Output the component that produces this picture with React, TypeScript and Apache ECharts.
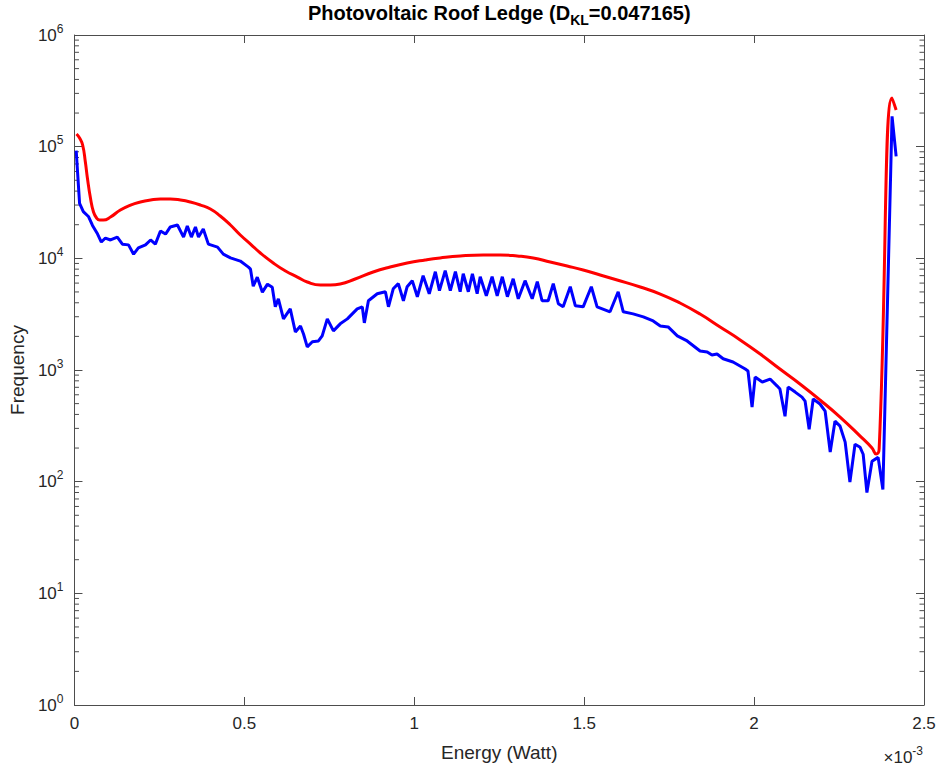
import React, { useEffect, useRef } from "react";
import * as echarts from "echarts";

// x values in units of 1e-3 Watt
const blueX = [0.005,0.015,0.026,0.041,0.053,0.068,0.079,0.091,0.106,0.126,
  0.141,0.159,0.174,0.188,0.209,0.224,0.238,0.253,0.268,0.282,
  0.303,0.321,0.332,0.344,0.356,0.365,0.379,0.394,0.421,0.438,
  0.459,0.488,0.512,0.518,0.526,0.538,0.553,0.568,0.582,0.591,
  0.600,0.615,0.635,0.650,0.665,0.674,0.685,0.700,0.718,0.729,
  0.744,0.762,0.782,0.803,0.832,0.847,0.853,0.865,0.891,0.915,
  0.924,0.938,0.953,0.968,0.979,0.994,1.009,1.026,1.044,1.062,
  1.074,1.091,1.106,1.121,1.135,1.144,1.159,1.171,1.185,1.194,
  1.212,1.229,1.244,1.259,1.274,1.291,1.306,1.326,1.347,1.362,
  1.376,1.394,1.409,1.424,1.438,1.459,1.474,1.497,1.521,1.538,
  1.576,1.600,1.615,1.644,1.674,1.703,1.724,1.747,1.774,1.803,
  1.841,1.862,1.876,1.891,1.909,1.938,1.974,1.982,1.994,2.003,
  2.024,2.047,2.068,2.076,2.091,2.100,2.121,2.141,2.150,2.162,
  2.174,2.194,2.209,2.224,2.238,2.253,2.268,2.282,2.297,2.312,
  2.321,2.332,2.347,2.365,2.379,2.406,2.418];

const blueY = [92000,31000,26200,23700,19700,16500,14000,15200,14600,15500,
  13400,13200,10900,12400,13200,14600,13400,17600,16500,19100,
  19900,15500,19500,15500,19100,15500,18300,13400,12600,10900,
  10100,9450,8340,8000,5630,6780,4980,5870,5510,3680,
  4340,2870,3530,2190,2480,2100,1610,1790,1820,2020,
  2870,2240,2590,2870,3530,3680,2640,4170,4820,5020,
  3680,5340,5930,4170,5570,6310,4530,6980,4820,7590,
  5130,7750,5130,7590,5020,7280,5020,7280,4820,6840,
  4620,6840,4620,6840,4530,6560,4340,6310,4340,6180,
  4170,4170,5930,3920,3680,5570,3760,3680,5570,3680,
  3320,5020,3320,3180,2990,2750,2480,2430,2020,1820,
  1480,1450,1360,1390,1260,1180,1020,980,466,865,
  780,830,718,675,385,703,634,572,527,295,
  550,496,429,184,348,314,226,99,216,203,
  176,80,152,165,85,187000,81900];

const redX = [0.006,0.015,0.024,0.032,0.038,0.047,0.056,0.065,0.074,0.085,
  0.106,0.135,0.165,0.194,0.224,0.253,0.282,0.312,0.341,0.371,
  0.400,0.429,0.459,0.488,0.518,0.547,0.585,0.621,0.656,0.685,
  0.724,0.753,0.782,0.826,0.879,0.929,0.979,1.032,1.076,1.135,
  1.203,1.253,1.303,1.350,1.400,1.450,1.497,1.547,1.597,1.665,
  1.724,1.782,1.841,1.900,1.959,2.018,2.076,2.135,2.194,2.253,
  2.312,2.347,2.359,2.368,2.406,2.418];

const redY = [129800,119500,103500,72900,52400,34700,26000,22960,22030,22030,
  23440,27100,30000,31950,33270,33960,33960,33270,31950,30000,
  27660,23930,19870,16180,13430,11160,9080,7700,6800,6140,
  5770,5770,5890,6530,7540,8360,9080,9660,10070,10490,
  10710,10710,10490,10070,9270,8530,7860,7100,6400,5540,
  4790,3980,3170,2430,1860,1390,1020,750,539,379,
  256,200,177,196,272900,212800];

const xTickValues = [0, 0.5, 1, 1.5, 2, 2.5];
const yDecades = [0, 1, 2, 3, 4, 5, 6];

const FONT = "'Liberation Sans', Arial, Helvetica, sans-serif";
const TXT = "#262626";
const AX = "#4d4d4d";

export default function App() {
  const ref = useRef<HTMLDivElement>(null);
  useEffect(() => {
    const chart = echarts.init(ref.current!, null, { renderer: "svg" });
    const blue = blueX.map((x, i) => [x, blueY[i]]);
    const red = redX.map((x, i) => [x, redY[i]]);
    const xMin = xTickValues[0];
    const xMax = xTickValues[xTickValues.length - 1];
    const yMin = Math.pow(10, yDecades[0]);
    const yMax = Math.pow(10, yDecades[yDecades.length - 1]);

    const axisLine = { show: true, onZero: false, lineStyle: { color: AX, width: 1 } };
    const tick = { show: true, inside: true, length: 8, lineStyle: { color: AX, width: 1 } };

    chart.setOption({
      animation: false,
      backgroundColor: "#ffffff",
      textStyle: { fontFamily: FONT },
      grid: { left: 74, right: 18, top: 35, bottom: 66, containLabel: false },
      xAxis: [
        {
          type: "value", min: xMin, max: xMax, interval: 0.5, position: "bottom",
          axisLine, axisTick: tick, splitLine: { show: false },
          axisLabel: { color: TXT, fontSize: 17, fontFamily: FONT, margin: 10, formatter: (v: number) => String(v) },
          name: "Energy (Watt)", nameLocation: "middle", nameGap: 38,
          nameTextStyle: { color: TXT, fontSize: 19, fontFamily: FONT },
        },
        {
          type: "value", min: xMin, max: xMax, interval: 0.5, position: "top",
          axisLine, axisTick: tick, splitLine: { show: false }, axisLabel: { show: false },
        },
      ],
      yAxis: [
        {
          type: "log", logBase: 10, min: yMin, max: yMax, interval: 1, position: "left",
          axisLine, axisTick: tick, splitLine: { show: false }, minorTick: { show: false },
          axisLabel: {
            margin: 11,
            formatter: (v: number) => `{b|10}{s|${Math.round(Math.log10(v))}}`,
            rich: {
              b: { color: TXT, fontSize: 17, fontFamily: FONT },
              s: { color: TXT, fontSize: 12, fontFamily: FONT, padding: [0, 0, 13, 0] },
            },
          },
          name: "Frequency", nameLocation: "middle", nameGap: 46, nameRotate: 90,
          nameTextStyle: { color: TXT, fontSize: 19, fontFamily: FONT },
        },
        {
          type: "log", logBase: 10, min: yMin, max: yMax, interval: 1, position: "right",
          axisLine, axisTick: tick, splitLine: { show: false }, axisLabel: { show: false },
        },
      ],
      series: [
        {
          type: "line", data: blue, xAxisIndex: 0, yAxisIndex: 0, showSymbol: false, symbol: "none",
          lineStyle: { color: "#0000ff", width: 3 }, z: 3,
        },
        {
          type: "line", data: red, xAxisIndex: 0, yAxisIndex: 0, showSymbol: false, symbol: "none",
          smooth: 0.5, lineStyle: { color: "#ff0000", width: 3 }, z: 4,
        },
      ],
    });

    const xl = chart.convertToPixel({ xAxisIndex: 0 }, xMin) as number;
    const xr = chart.convertToPixel({ xAxisIndex: 0 }, xMax) as number;
    const yTop = chart.convertToPixel({ yAxisIndex: 0 }, yMax) as number;
    const yBot = chart.convertToPixel({ yAxisIndex: 0 }, yMin) as number;
    const cx = (xl + xr) / 2;
    const graphics: any[] = [];
    for (let n = yDecades[0]; n < yDecades[yDecades.length - 1]; n++) {
      for (let k = 2; k <= 9; k++) {
        const py = chart.convertToPixel({ yAxisIndex: 0 }, k * Math.pow(10, n)) as number;
        graphics.push({ type: "line", silent: true, shape: { x1: xl, y1: py, x2: xl + 4.5, y2: py }, style: { stroke: AX, lineWidth: 1 } });
        graphics.push({ type: "line", silent: true, shape: { x1: xr - 4.5, y1: py, x2: xr, y2: py }, style: { stroke: AX, lineWidth: 1 } });
      }
    }
    graphics.push({
      type: "text", x: cx, y: yTop - 36,
      style: {
        text: "{t|Photovoltaic Roof Ledge (D}{u|KL}{t|=0.047165)}",
        textAlign: "center",
        rich: {
          t: { fontSize: 20, fontWeight: "bold", fill: "#000", fontFamily: FONT },
          u: { fontSize: 14, fontWeight: "bold", fill: "#000", fontFamily: FONT, padding: [14, 0, 0, 0] },
        },
      },
    });
    graphics.push({
      type: "text", x: xr - 1, y: yBot + 40,
      style: {
        text: "{m|\u00d710}{s|-3}",
        textAlign: "right",
        rich: {
          m: { fontSize: 17, fill: TXT, fontFamily: FONT },
          s: { fontSize: 12, fill: TXT, fontFamily: FONT, padding: [0, 0, 13, 0] },
        },
      },
    });
    chart.setOption({ graphic: graphics });

    return () => chart.dispose();
  }, []);
  return <div ref={ref} style={{ position: "absolute", left: 0, top: 0, width: 942, height: 771 }} />;
}
